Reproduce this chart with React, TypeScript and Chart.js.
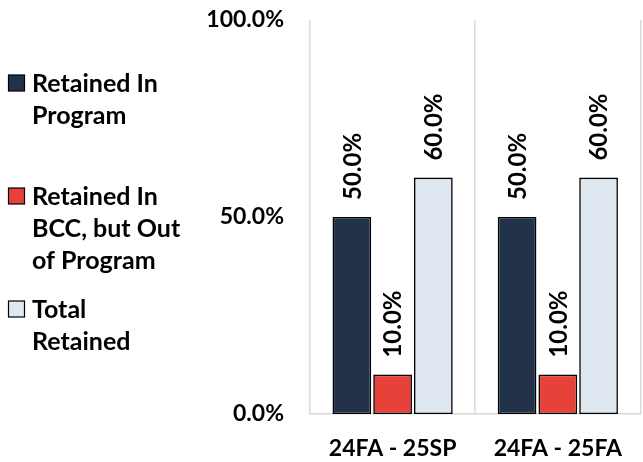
import React, { useEffect, useRef } from "react";
import { Chart, registerables } from "chart.js";

Chart.register(...registerables);

const categories = ["24FA - 25SP", "24FA - 25FA"];
const seriesNames = ["Retained In Program", "Retained In BCC, but Out of Program", "Total Retained"];
const legendLines = [
  ["Retained In", "Program"],
  ["Retained In", "BCC, but Out", "of Program"],
  ["Total", "Retained"],
];
const retainedInProgram = [50, 50];
const retainedInBCC = [10, 10];
const totalRetained = [60, 60];
const yTicks = [0, 50, 100];
const colors = ["#223249", "#E8413A", "#DFE7F1"];

const FAMILY = "Lato, 'Open Sans', sans-serif";
const LABEL_FONT = "bold 24px " + FAMILY;
const LEGEND_FONT = "bold 25px " + FAMILY;

const dataLabelPlugin = {
  id: "dataLabels",
  afterDatasetsDraw(chart: any) {
    const ctx = chart.ctx;
    ctx.save();
    ctx.font = LABEL_FONT;
    ctx.fillStyle = "#000";
    chart.data.datasets.forEach((ds: any, di: number) => {
      const meta = chart.getDatasetMeta(di);
      meta.data.forEach((bar: any, i: number) => {
        const v = ds.data[i];
        ctx.save();
        ctx.translate(bar.x, bar.y - 17);
        ctx.rotate(-Math.PI / 2);
        ctx.textAlign = "left";
        ctx.textBaseline = "middle";
        ctx.fillText(v.toFixed(1) + "%", 0, 1);
        ctx.restore();
      });
    });
    ctx.restore();
  },
};

const sideLegendPlugin = {
  id: "sideLegend",
  afterDraw(chart: any) {
    const ctx = chart.ctx;
    ctx.save();
    ctx.font = LEGEND_FONT;
    ctx.textBaseline = "middle";
    ctx.textAlign = "left";
    chart.data.datasets.forEach((ds: any, i: number) => {
      const y0 = 83 + i * 113;
      ctx.fillStyle = ds.backgroundColor;
      ctx.fillRect(8.5, y0 - 8, 16, 16);
      ctx.strokeStyle = "#000";
      ctx.lineWidth = 1.2;
      ctx.strokeRect(8.5, y0 - 8, 16, 16);
      ctx.fillStyle = "#000";
      legendLines[i].forEach((line, li) => {
        ctx.fillText(line, 32, y0 + li * 32 + 1);
      });
    });
    ctx.restore();
  },
};

export default function App() {
  const ref = useRef<HTMLCanvasElement>(null);
  useEffect(() => {
    if (!ref.current) return;
    const series = [retainedInProgram, retainedInBCC, totalRetained];
    const chart = new Chart(ref.current, {
      type: "bar",
      data: {
        labels: categories,
        datasets: series.map((d, i) => ({
          label: seriesNames[i],
          data: d,
          backgroundColor: colors[i],
          borderColor: "#000",
          borderWidth: 1.6,
          borderSkipped: false,
          categoryPercentage: 0.74,
          barPercentage: 0.95,
        })),
      },
      options: {
        animation: false,
        responsive: false,
        maintainAspectRatio: false,
        layout: { padding: { left: 0, top: 20, right: 0, bottom: 0 } },
        plugins: {
          legend: { display: false },
          tooltip: { enabled: false },
        },
        scales: {
          x: {
            grid: { display: true, offset: true, color: "#D9D9D9", drawTicks: false, lineWidth: 1.5 },
            border: { display: true, color: "#D9D9D9", width: 1.5 },
            ticks: { font: { family: FAMILY, size: 23, weight: "bold" }, color: "#000", padding: 21 },
            afterFit: (s: any) => { s.height = 48; },
          },
          y: {
            min: 0,
            max: 100,
            afterBuildTicks: (s: any) => { s.ticks = yTicks.map((v) => ({ value: v })); },
            grid: { display: false, drawTicks: false },
            border: { display: false },
            ticks: {
              font: { family: FAMILY, size: 23, weight: "bold" },
              color: "#000",
              padding: 26,
              callback: (v: any) => Number(v).toFixed(1) + "%",
            },
            afterFit: (s: any) => { s.width = 310; s.paddingTop = 14; s.paddingBottom = 14; },
          },
        },
      },
      plugins: [dataLabelPlugin, sideLegendPlugin],
    });
    return () => chart.destroy();
  }, []);
  return (
    <div style={{ position: "absolute", left: 0, top: 0, width: 643, height: 462, background: "#fff" }}>
      <canvas ref={ref} width={643} height={462} />
    </div>
  );
}
